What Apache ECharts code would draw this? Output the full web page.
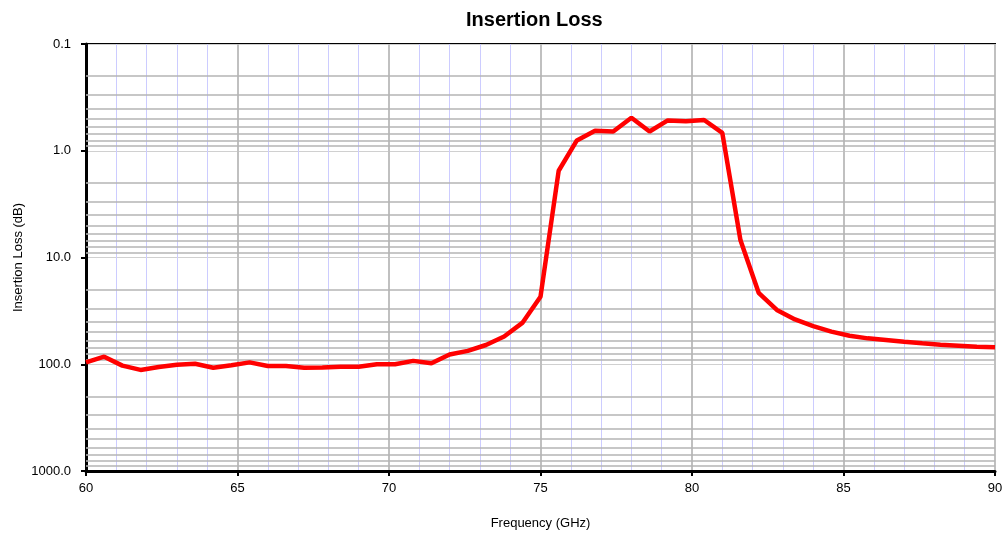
<!DOCTYPE html>
<html>
<head>
<meta charset="utf-8">
<script src="https://cdn.jsdelivr.net/npm/echarts@6/dist/echarts.min.js"></script>
<style>
  html, body { margin: 0; padding: 0; background: #fff; }
  #chart { width: 1008px; height: 535px; }
</style>
</head>
<body>
<div id="chart"></div>
<script>
// 频率 (GHz)
const freq = [60, 60.6, 61.2, 61.8, 62.4, 63, 63.6, 64.2, 64.8, 65.4,
  66, 66.6, 67.2, 67.8, 68.4, 69, 69.6, 70.2, 70.8, 71.4,
  72, 72.6, 73.2, 73.8, 74.4, 75, 75.6, 76.2, 76.8, 77.4,
  78, 78.6, 79.2, 79.8, 80.4, 81, 81.6, 82.2, 82.8, 83.4,
  84, 84.6, 85.2, 85.8, 86.4, 87, 87.6, 88.2, 88.8, 89.4, 90];

// 插入损耗 (dB)
const loss = [96, 85, 103, 113, 106, 101, 99, 108, 102, 96,
  104, 104, 108, 107, 105.5, 105.5, 100, 100, 93, 98,
  81, 75, 66, 55, 41, 23.3, 1.54, 0.80, 0.65, 0.66,
  0.49, 0.66, 0.52, 0.53, 0.515, 0.68, 6.9, 21.4, 31, 38,
  44, 49.5, 54, 57.2, 59.3, 61.5, 63.7, 65.6, 67, 68.5, 69.4];

// 对数轴的次网格线 (2..9 倍)
const decades = [0.1, 1, 10, 100];
const minorSteps = [2, 3, 4, 5, 6, 7, 8, 9];

const font = '"Liberation Sans", Arial, sans-serif';

const minorLines = [];
decades.forEach(d => {
  minorSteps.forEach(m => {
    minorLines.push({ yAxis: +(d * m).toPrecision(3) });
  });
});

const seriesData = freq.map((f, i) => [f, loss[i]]);

const chart = echarts.init(document.getElementById('chart'), null, { renderer: 'canvas' });

const option = {
  animation: false,
  backgroundColor: '#fff',
  title: {
    text: 'Insertion Loss',
    left: 461,
    top: 5,
    textStyle: {
      color: '#000',
      fontSize: 20,
      fontWeight: 'bold',
      fontFamily: font
    }
  },
  grid: {
    left: 86,
    right: 13,
    top: 44,
    bottom: 64,
    show: true,
    borderColor: '#000',
    borderWidth: 2
  },
  xAxis: {
    type: 'value',
    min: 60,
    max: 90,
    interval: 5,
    name: 'Frequency (GHz)',
    nameLocation: 'middle',
    nameGap: 46,
    nameTextStyle: { color: '#000', fontSize: 13, fontFamily: font },
    axisLine: { show: true, lineStyle: { color: '#000', width: 3 } },
    axisTick: { show: true, length: 5, lineStyle: { color: '#000', width: 2 } },
    axisLabel: { color: '#000', fontSize: 13, fontFamily: font, margin: 11 },
    splitLine: { show: true, lineStyle: { color: '#c0c0c0', width: 2 } },
    minorTick: { show: false, splitNumber: 5 },
    minorSplitLine: { show: true, lineStyle: { color: '#ccccff', width: 1 } }
  },
  yAxis: {
    type: 'log',
    logBase: 10,
    min: 0.1,
    max: 1000,
    inverse: true,
    name: 'Insertion Loss (dB)',
    nameLocation: 'middle',
    nameGap: 61,
    nameMoveOverlap: false,
    nameTextStyle: { color: '#000', fontSize: 13, fontFamily: font },
    axisLine: { show: true, lineStyle: { color: '#000', width: 3 } },
    axisTick: { show: true, length: 5, lineStyle: { color: '#000', width: 2 } },
    axisLabel: {
      color: '#000',
      fontSize: 13,
      fontFamily: font,
      margin: 15,
      formatter: v => Number(v).toFixed(1)
    },
    splitLine: { show: true, lineStyle: { color: '#d0d0d0', width: 1 } }
  },
  series: [
    {
      // 仅用于绘制次网格线
      type: 'line',
      data: seriesData,
      z: 1,
      silent: true,
      showSymbol: false,
      lineStyle: { opacity: 0 },
      markLine: {
        silent: true,
        symbol: 'none',
        label: { show: false },
        animation: false,
        lineStyle: { color: '#b4b4b4', width: 1.5, type: 'solid' },
        data: minorLines
      }
    },
    {
      name: 'Insertion Loss',
      type: 'line',
      data: seriesData,
      z: 5,
      showSymbol: false,
      lineStyle: { color: '#ff0000', width: 4.5 },
      itemStyle: { color: '#ff0000' }
    }
  ]
};

chart.setOption(option);
</script>
</body>
</html>
